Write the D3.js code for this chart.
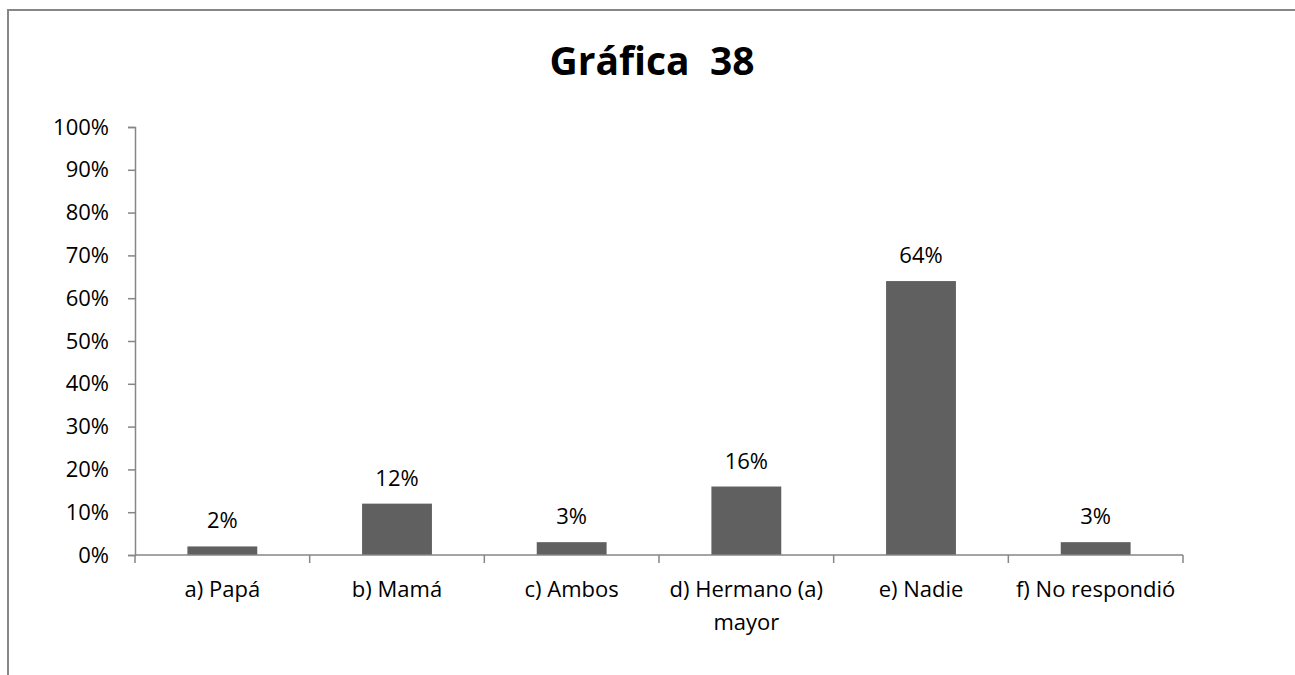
<!DOCTYPE html>
<html>
<head>
<meta charset="utf-8">
<script src="https://cdn.jsdelivr.net/npm/d3@7"></script>
<style>
  html, body { margin: 0; padding: 0; background: #fff; }
  svg { display: block; }
  text { font-family: "Open Sans", "DejaVu Sans", sans-serif; fill: #000; }
</style>
</head>
<body>
<svg id="chart" width="1295" height="675"></svg>
<script>
const categories = ["a) Papá", "b) Mamá", "c) Ambos", "d) Hermano (a)|mayor", "e) Nadie", "f) No respondió"];
const values = [0.02, 0.12, 0.03, 0.16, 0.64, 0.03];
const valueLabels = ["2%", "12%", "3%", "16%", "64%", "3%"];
const yTicks = [0, 0.1, 0.2, 0.3, 0.4, 0.5, 0.6, 0.7, 0.8, 0.9, 1.0];
const chartTitle = "Gráfica  38";

const svg = d3.select("#chart");
const W = 1295, H = 675;
const plotLeft = 135, plotRight = 1183, plotTop = 127, plotBottom = 555;
const axisColor = "#868686";

// frame (top and left edges visible)
svg.append("path")
  .attr("d", `M8,${H} L8,10 L${W},10`)
  .attr("fill", "none").attr("stroke", "#878787").attr("stroke-width", 2);

// title
svg.append("text")
  .attr("x", 652).attr("y", 75)
  .attr("text-anchor", "middle")
  .attr("font-weight", "bold")
  .attr("font-size", 39)
  .attr("xml:space", "preserve")
  .style("white-space", "pre")
  .text(chartTitle);

const x = d3.scaleBand().domain(categories).range([plotLeft, plotRight]).padding(0);
const y = d3.scaleLinear().domain([0, 1]).range([plotBottom, plotTop]);

// y axis
const yAxis = d3.axisLeft(y).tickValues(yTicks).tickFormat(d3.format(".0%")).tickSize(7).tickPadding(19);
const gy = svg.append("g").attr("transform", `translate(${plotLeft},0)`).call(yAxis);
gy.select(".domain").attr("stroke", axisColor).attr("stroke-width", 1.5);
gy.selectAll(".tick line").attr("stroke", axisColor).attr("stroke-width", 1.5);
gy.selectAll(".tick text").attr("font-size", 22).attr("font-family", "Open Sans").attr("fill", "#000");

// bars
const barW = x.bandwidth() * 0.4;
svg.append("g").selectAll("rect")
  .data(values)
  .join("rect")
  .attr("x", (d, i) => x(categories[i]) + (x.bandwidth() - barW) / 2)
  .attr("y", d => y(d))
  .attr("width", barW)
  .attr("height", d => y(0) - y(d))
  .attr("fill", "#606060");

// x axis
const gx = svg.append("g").attr("transform", `translate(0,${plotBottom})`);
gx.append("line").attr("x1", plotLeft).attr("x2", plotRight).attr("y1", 0).attr("y2", 0)
  .attr("stroke", axisColor).attr("stroke-width", 1.5);
const bounds = categories.map(c => x(c)).concat([plotRight]);
gx.selectAll("line.tk").data(bounds).join("line").attr("class", "tk")
  .attr("x1", d => d).attr("x2", d => d).attr("y1", 0).attr("y2", 8)
  .attr("stroke", axisColor).attr("stroke-width", 1.5);

// category labels
const lab = svg.append("g").selectAll("text")
  .data(categories)
  .join("text")
  .attr("x", d => x(d) + x.bandwidth() / 2)
  .attr("y", 597)
  .attr("text-anchor", "middle")
  .attr("font-size", 22);
lab.each(function(d) {
  const parts = d.split("|");
  const t = d3.select(this);
  parts.forEach((p, k) => {
    t.append("tspan").attr("x", x(d) + x.bandwidth() / 2).attr("dy", k === 0 ? 0 : 33).text(p);
  });
});

// value labels
svg.append("g").selectAll("text")
  .data(values)
  .join("text")
  .attr("x", (d, i) => x(categories[i]) + x.bandwidth() / 2)
  .attr("y", d => y(d) - 18)
  .attr("text-anchor", "middle")
  .attr("font-size", 22)
  .text((d, i) => valueLabels[i]);
</script>
</body>
</html>
